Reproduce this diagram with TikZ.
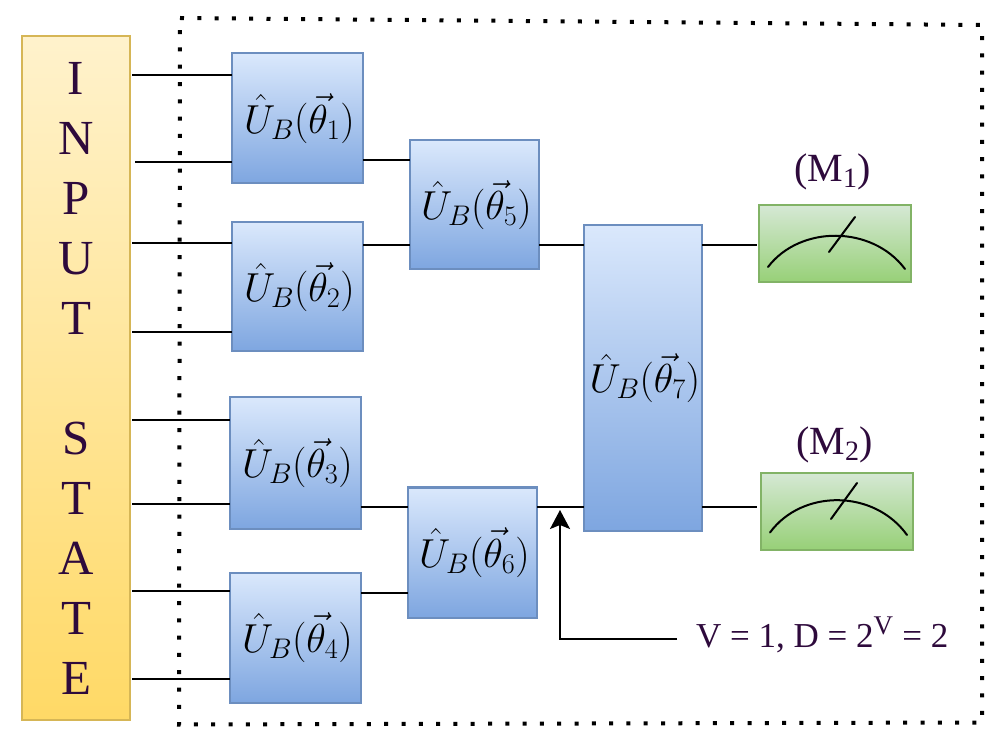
\RequirePackage{fix-cm}
\documentclass[tikz,border=0pt]{standalone}
\usepackage{amssymb}
\usepackage{amsmath}
\usepackage{fontspec}
\setmainfont{Liberation Serif}
\usepackage{tikz}
\usetikzlibrary{arrows.meta}

\definecolor{inktext}{HTML}{2E0A3C}
\definecolor{uedge}{HTML}{6C8EBF}
\definecolor{utop}{HTML}{DAE8FC}
\definecolor{ubot}{HTML}{7EA6E0}
\definecolor{iedge}{HTML}{D6B656}
\definecolor{itop}{HTML}{FFF2CC}
\definecolor{ibot}{HTML}{FFD966}
\definecolor{medge}{HTML}{82B366}
\definecolor{mtop}{HTML}{D5E8D4}
\definecolor{mbot}{HTML}{97D077}

\tikzset{
  ubox/.style={draw=uedge, top color=utop, bottom color=ubot, line width=2, outer sep=0, inner sep=0, text=black, font=\fontsize{40.5}{40.5}\selectfont, execute at begin node=\hspace*{4pt}},
  inputbox/.style={draw=iedge, top color=itop, bottom color=ibot, line width=2, outer sep=0, inner sep=0, align=center, text=inktext, font=\fontsize{49}{60}\selectfont},
  meter/.style={draw=medge, top color=mtop, bottom color=mbot, line width=2, outer sep=0, minimum width=152, minimum height=77},
  wire/.style={draw=black, line width=2},
  lbl/.style={text=inktext, inner sep=0, font=\fontsize{35}{35}\selectfont},
  mlbl/.style={lbl, font=\fontsize{40}{40}\selectfont}
}

\begin{document}
\begin{tikzpicture}[x=1pt, y=-1pt]
  \useasboundingbox (0,0) rectangle (1005,751);

  % outer frame
  \draw[line width=4, dash pattern=on 4 off 13.3] (180,18) -- (982,25) -- (982,722.5) -- (179,724.5) -- cycle;

  \node (input) [inputbox, minimum width=108, minimum height=683] at (76,378) {I\\N\\P\\U\\T\\[60pt]S\\T\\A\\T\\E};

  \node (b1) [ubox, minimum width=131, minimum height=130] at (297.5,118.5) {$\hat{U}_B(\vec{\theta}_1)$};
  \node (b2) [ubox, minimum width=131, minimum height=129] at (297.5,287) {$\hat{U}_B(\vec{\theta}_2)$};
  \node (b3) [ubox, minimum width=131, minimum height=131] at (295.5,463) {$\hat{U}_B(\vec{\theta}_3)$};
  \node (b4) [ubox, minimum width=131, minimum height=130] at (295.5,637.5) {$\hat{U}_B(\vec{\theta}_4)$};
  \node (b5) [ubox, minimum width=129, minimum height=129] at (474.5,205) {$\hat{U}_B(\vec{\theta}_5)$};
  \node (b6) [ubox, minimum width=129, minimum height=130] at (472.5,552.5) {$\hat{U}_B(\vec{\theta}_6)$};
  \node (b7) [ubox, minimum width=118, minimum height=305] at (643,378) {$\hat{U}_B(\vec{\theta}_7)$};

  \node (m1) [meter] at (835,244) {};
  \node (m2) [meter] at (837,511.5) {};
  \node (m1lbl) [mlbl] at (832.5,172) {(M\textsubscript{1})};
  \node (m2lbl) [mlbl] at (834.5,445) {(M\textsubscript{2})};
  \node (dim) [lbl, anchor=base west] at (696,647) {V = 1, D = 2\textsuperscript{\fontsize{27}{27}\selectfont V} = 2};

  % wire ends on the input side
  \coordinate (in1) at (132,75);
  \coordinate (in2) at (135,162.5);
  \coordinate (in3) at (132,243);
  \coordinate (in4) at (132,332);
  \coordinate (in5) at (132,420);
  \coordinate (in6) at (132,504);
  \coordinate (in7) at (132,591);
  \coordinate (in8) at (132,679);
  % heights of the inner wires
  \coordinate (h1) at (0,160);
  \coordinate (h2) at (0,245);
  \coordinate (h3) at (0,507);
  \coordinate (h4) at (0,593);
  \coordinate (arrowend) at (677,639);
  \coordinate (arrowbend) at (560,639);
  \coordinate (arrowtip) at (560,510);

  \path (in1) edge [wire] (in1 -| b1.west);
  \path (in2) edge [wire] (in2 -| b1.west);
  \path (in3) edge [wire] (in3 -| b2.west);
  \path (in4) edge [wire] (in4 -| b2.west);
  \path (in5) edge [wire] (in5 -| b3.west);
  \path (in6) edge [wire] (in6 -| b3.west);
  \path (in7) edge [wire] (in7 -| b4.west);
  \path (in8) edge [wire] (in8 -| b4.west);

  \path (b1.east |- h1) edge [wire] (b5.west |- h1);
  \path (b2.east |- h2) edge [wire] (b5.west |- h2);
  \path (b3.east |- h3) edge [wire] (b6.west |- h3);
  \path (b4.east |- h4) edge [wire] (b6.west |- h4);
  \path (b5.east |- h2) edge [wire] (b7.west |- h2);
  \path (b6.east |- h3) edge [wire] (b7.west |- h3);
  \path (b7.east |- h2) edge [wire] ([xshift=-2]m1.west |- h2);
  \path (b7.east |- h3) edge [wire] ([xshift=-4]m2.west |- h3);

  \draw[wire, -{Stealth[length=19, width=20, inset=4]}] (arrowend) -- (arrowbend) -- (arrowtip);

  % dials
  \draw[wire, line cap=round] (768,267) .. controls (800,225) and (872,225) .. (905,269);
  \draw[wire, line cap=round] (829,252) -- (855,217);
  \draw[wire, line cap=round] (770,532.5) .. controls (802,489) and (874,489) .. (907,535);
  \draw[wire, line cap=round] (831,519) -- (857,483);
\end{tikzpicture}
\end{document}
